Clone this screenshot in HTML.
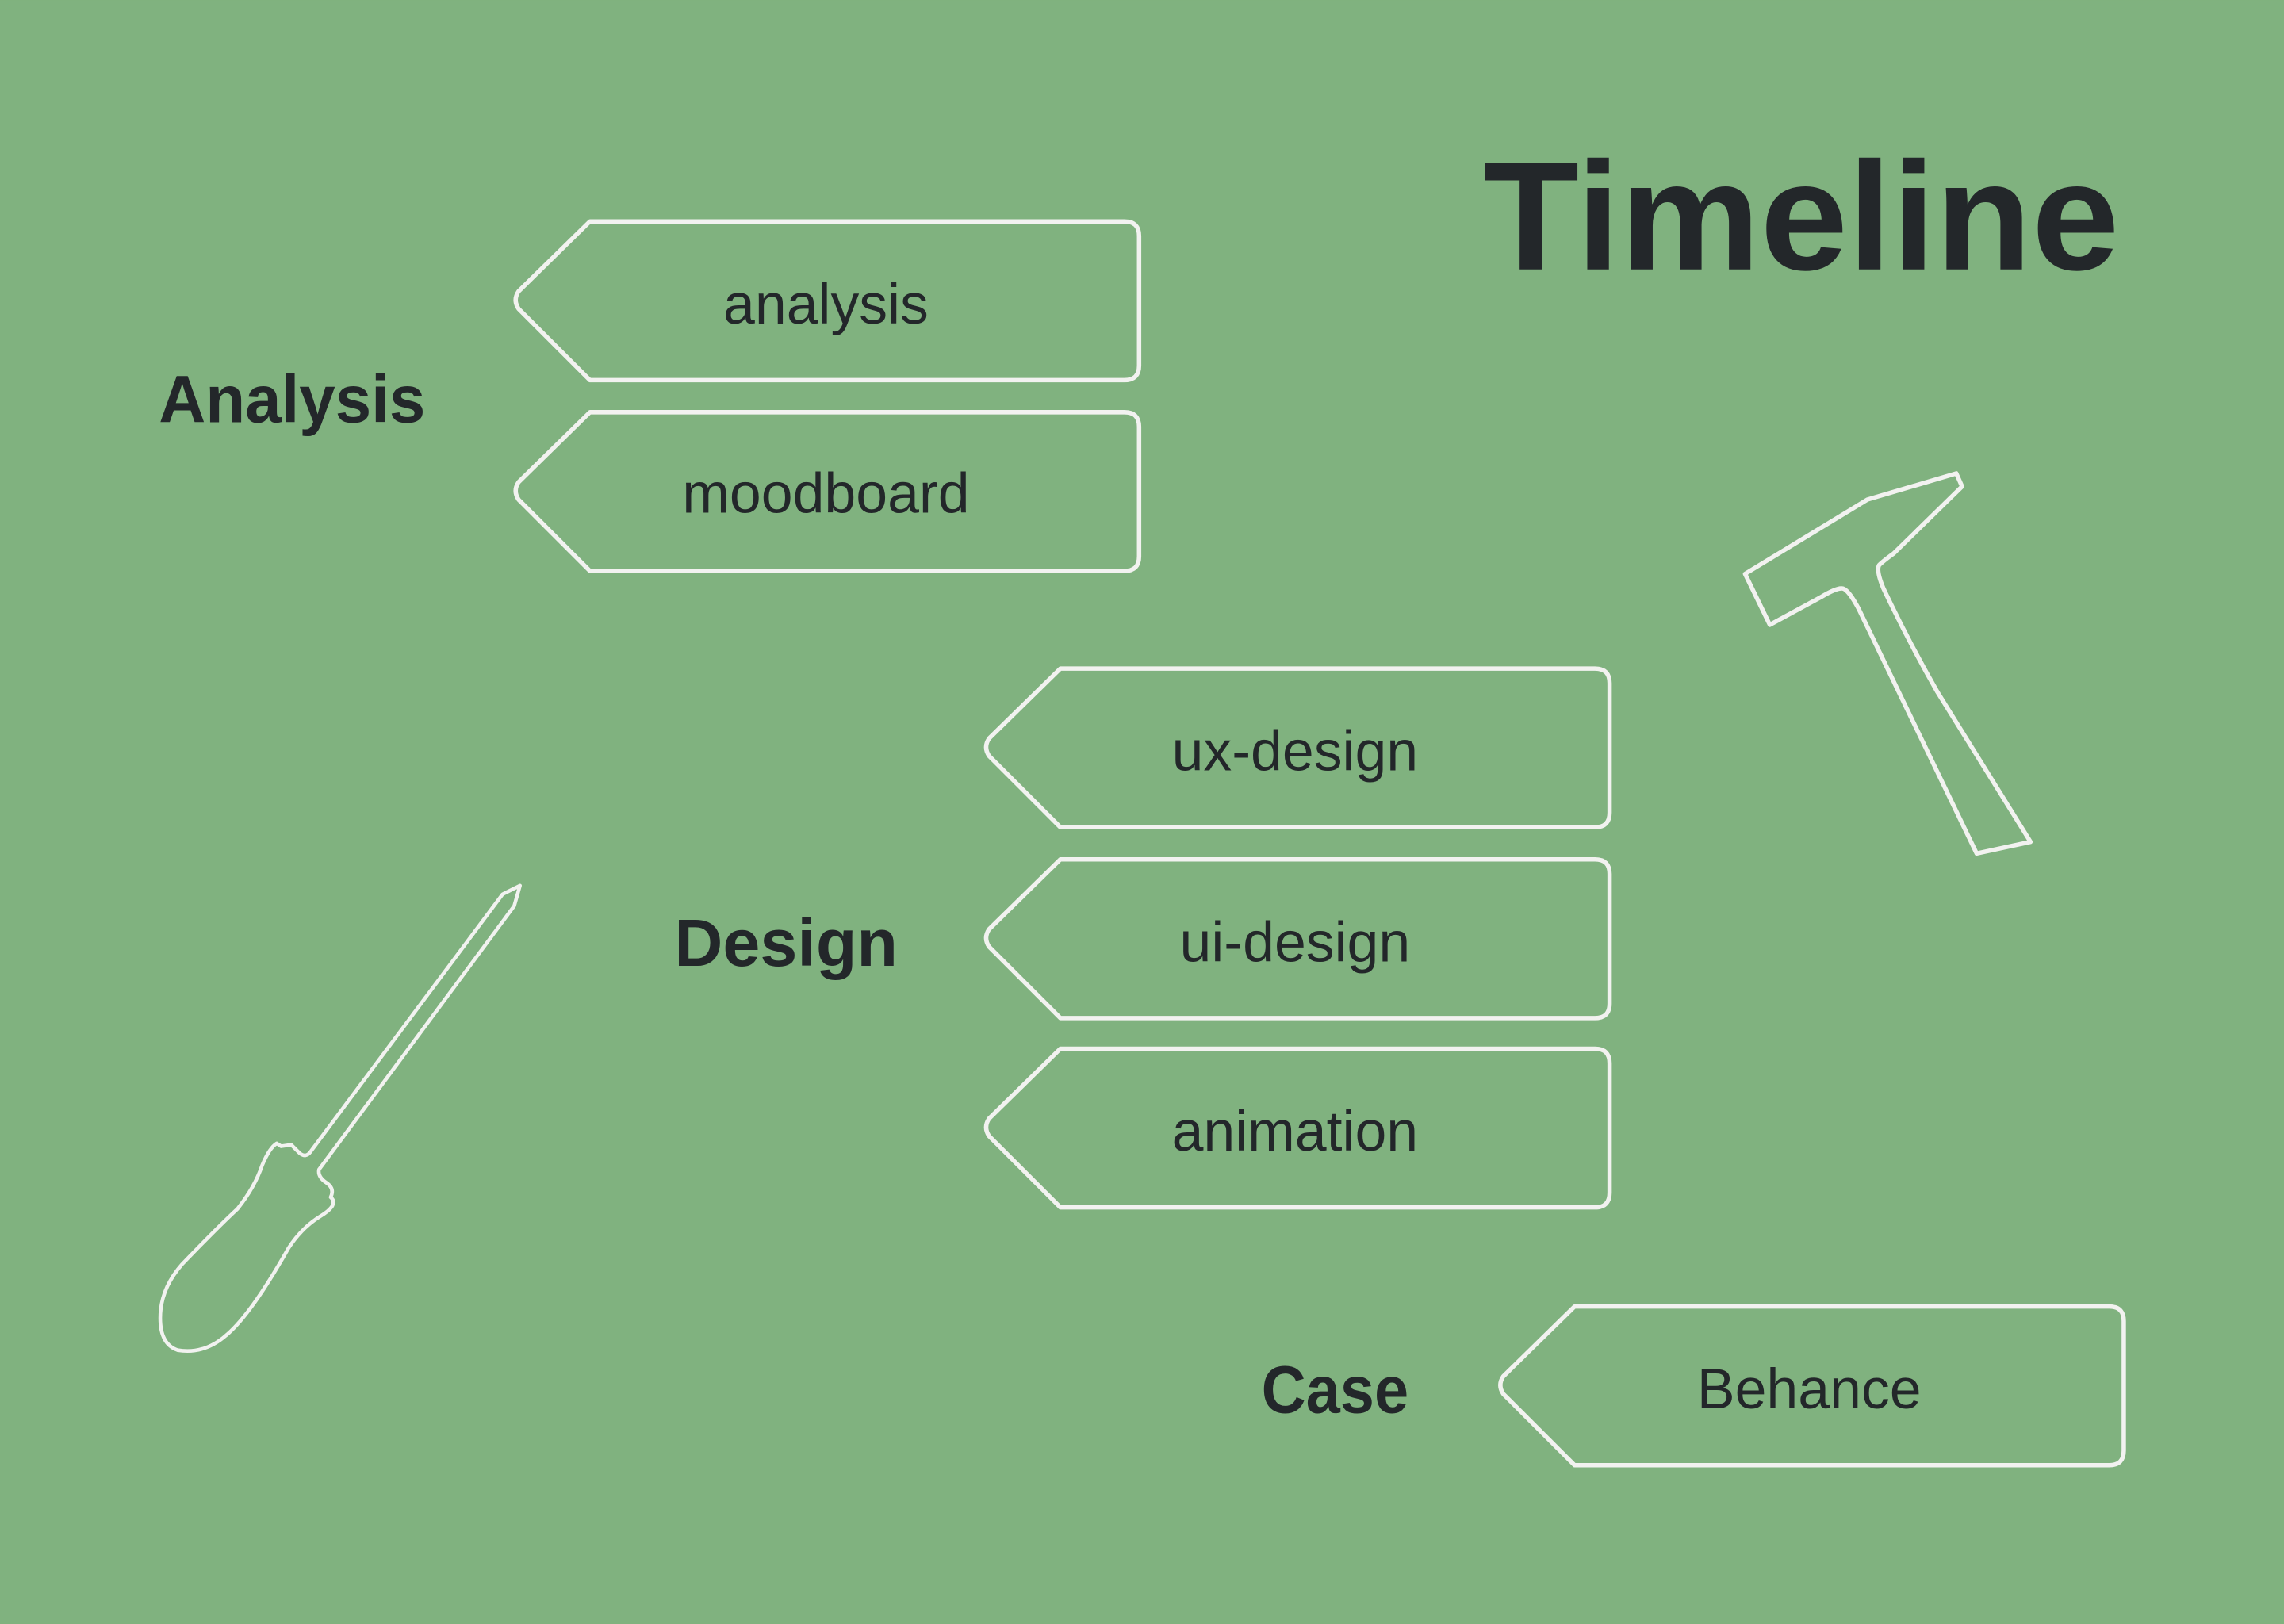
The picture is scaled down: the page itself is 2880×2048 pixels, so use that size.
<!DOCTYPE html>
<html><head><meta charset="utf-8"><style>
html,body{margin:0;padding:0;background:#80b27f;}
svg{display:block}
text{font-family:"Liberation Sans","DejaVu Sans",sans-serif;fill:#23272a}
</style></head><body>
<svg width="2880" height="2048" viewBox="0 0 1568 1115" xmlns="http://www.w3.org/2000/svg">
<rect width="1568" height="1115" fill="#80b27f"/>
<defs>
<path id="tag" d="M408,0 L53,0 L4,48 Q0,54 4,60 L53,109 L420,109 Q430,109 430,99 L430,10 Q430,0 420,0 Z" fill="none" stroke="#f2f2f0" stroke-width="3" stroke-linejoin="round"/>
</defs>
<use href="#tag" x="352" y="152"/>
<use href="#tag" x="352" y="283"/>
<use href="#tag" x="675" y="459"/>
<use href="#tag" x="675" y="590"/>
<use href="#tag" x="675" y="720"/>
<use href="#tag" x="1028" y="897"/>
<g font-size="39" text-anchor="middle">
<text x="567" y="222">analysis</text>
<text x="567" y="352">moodboard</text>
<text x="889" y="529">ux-design</text>
<text x="889" y="660">ui-design</text>
<text x="889" y="790">animation</text>
<text x="1242" y="967">Behance</text>
</g>
<g font-size="46" font-weight="bold">
<text x="109" y="290" textLength="183" lengthAdjust="spacingAndGlyphs">Analysis</text>
<text x="463" y="663">Design</text>
<text x="866" y="970" textLength="101" lengthAdjust="spacingAndGlyphs">Case</text>
</g>
<text x="1018" y="185" font-size="106" font-weight="bold" textLength="437" lengthAdjust="spacingAndGlyphs">Timeline</text>
<path d="M1198,394 L1282,343 L1343,325 L1347,334 L1300,380 Q1293,385 1290,388 Q1288,392 1293,404 Q1310,440 1330,475 L1394,578 L1357,586 L1276,418 Q1268,403 1264,404 Q1260,404 1250,410 L1215,429 Z" fill="none" stroke="#f2f2f0" stroke-width="3" stroke-linejoin="round"/>
<path d="M345,614 L357,608 L353,622 L219,803 Q218,808 224,812 Q230,816 227,822 Q233,827 220,835 Q207,843 198,857 Q172,903 155,917 Q140,930 122,927 Q110,923 110,905 Q110,885 125,868 Q150,842 163,830 Q175,815 180,800 Q185,788 190,785 L193,787 L200,786 L206,792 Q210,795 213,791 Z" fill="none" stroke="#f2f2f0" stroke-width="2.5" stroke-linejoin="round"/>
</svg>
</body></html>
